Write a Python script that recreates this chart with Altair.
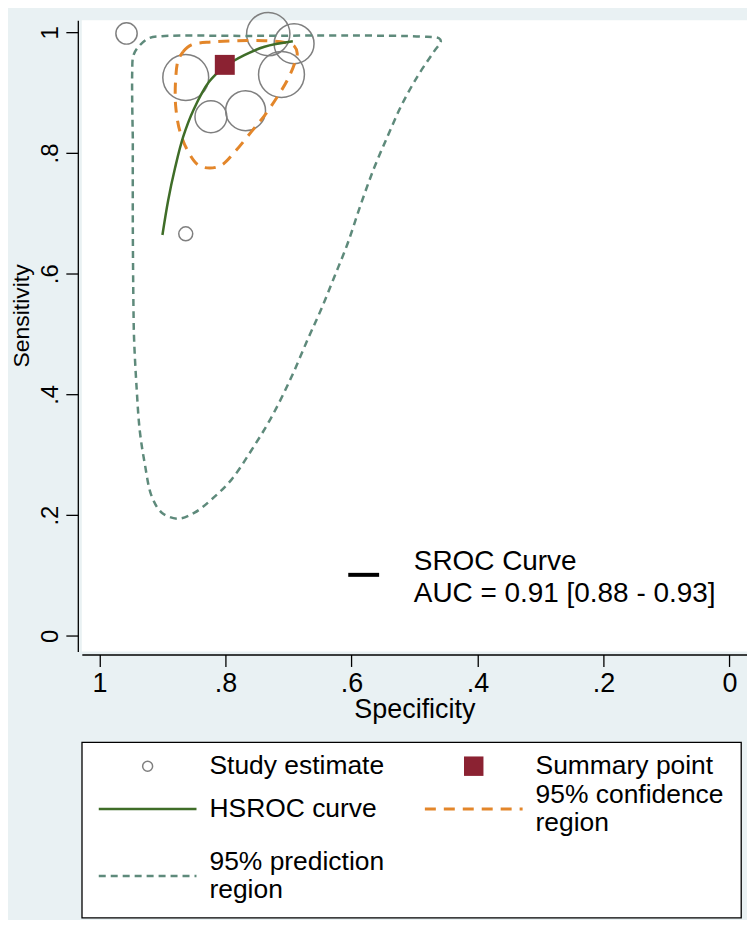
import altair as alt
import pandas as pd

FONT = "Liberation Sans"
BG = "#E9F1F3"

# ---------------- data ----------------
study_spec = [0.957, 0.732, 0.691, 0.863, 0.711, 0.823, 0.768, 0.863]
study_sens = [0.998, 0.997, 0.981, 0.925, 0.930, 0.860, 0.870, 0.666]
study_weight = [114, 471, 400, 529, 529, 256, 400, 49]

summary_spec = [0.801]
summary_sens = [0.946]

hsroc_spec = [0.900, 0.891, 0.880, 0.867, 0.850, 0.826, 0.801, 0.770, 0.738, 0.693]
hsroc_sens = [0.664, 0.721, 0.775, 0.827, 0.873, 0.918, 0.943, 0.962, 0.976, 0.985]

conf_spec = [0.867, 0.854, 0.822, 0.780, 0.738, 0.706, 0.690, 0.686, 0.690, 0.701, 0.717, 0.738,
             0.759, 0.785, 0.806, 0.825, 0.843, 0.859, 0.872, 0.879, 0.879, 0.875, 0.867]
conf_sens = [0.968, 0.979, 0.984, 0.986, 0.986, 0.983, 0.976, 0.965, 0.949, 0.922, 0.894, 0.862,
             0.835, 0.802, 0.780, 0.775, 0.780, 0.802, 0.835, 0.878, 0.922, 0.954, 0.968]

pred_spec = [0.947, 0.948, 0.946, 0.938, 0.922, 0.901, 0.759, 0.601, 0.490, 0.461, 0.458,
             0.469, 0.495, 0.521, 0.542, 0.564, 0.585, 0.606, 0.627, 0.648, 0.669, 0.696,
             0.727, 0.759, 0.791, 0.822, 0.849, 0.875, 0.901, 0.917, 0.928, 0.936, 0.941,
             0.945, 0.946, 0.947, 0.947]
pred_sens = [0.824, 0.933, 0.962, 0.976, 0.990, 0.9935, 0.994, 0.9946, 0.993, 0.990, 0.985,
             0.968, 0.927, 0.878, 0.829, 0.775, 0.715, 0.650, 0.595, 0.541, 0.492, 0.427,
             0.362, 0.307, 0.258, 0.226, 0.204, 0.194, 0.204, 0.231, 0.285, 0.340, 0.411,
             0.492, 0.546, 0.677, 0.824]

tick_values = [0, 0.2, 0.4, 0.6, 0.8, 1]

auc_lines = ["SROC Curve", "AUC = 0.91 [0.88 - 0.93]"]
auc_spec = [0.501, 0.501]
auc_sens = [0.122, 0.070]
auc_key_spec = [0.605, 0.556]
auc_key_sens = [0.101]

legend_labels = ["Study estimate", "Summary point", "HSROC curve",
                 "95% confidence\nregion", "95% prediction\nregion"]
legend_kind = ["study", "summary", "hsroc", "conf", "pred"]
legend_col = [0, 1, 0, 1, 0]
legend_row = [0, 0, 1, 1, 2]

# legend layout (panel units)
leg_sym_x = [66, 393]
leg_text_x = [128, 455]
leg_row_y = [24, 67, 134]
leg_line_half = 49
leg_line_height = 28

# ---------------- frames ----------------
study_df = pd.DataFrame({"spec": study_spec, "sens": study_sens, "w": study_weight})
summary_df = pd.DataFrame({"spec": summary_spec, "sens": summary_sens})
hsroc_df = pd.DataFrame({"spec": hsroc_spec, "sens": hsroc_sens, "i": range(len(hsroc_spec))})
conf_df = pd.DataFrame({"spec": conf_spec, "sens": conf_sens, "i": range(len(conf_spec))})
pred_df = pd.DataFrame({"spec": pred_spec, "sens": pred_sens, "i": range(len(pred_spec))})
auc_df = pd.DataFrame({"spec": auc_spec, "sens": auc_sens, "t": auc_lines})
auc_key_df = pd.DataFrame({"spec": [auc_key_spec[0]], "spec2": [auc_key_spec[1]],
                           "sens": auc_key_sens})

xs = alt.Scale(domain=[-0.028, 1.028], reverse=True, nice=False, zero=False)
ys = alt.Scale(domain=[-0.026, 1.02], nice=False, zero=False)

lab_expr = "datum.value == 0 ? '0' : datum.value == 1 ? '1' : '.' + format(datum.value * 10, '.0f')"

x_axis = alt.Axis(values=tick_values, labelExpr=lab_expr, title="Specificity", grid=False,
                  offset=3, domainColor="black", domainWidth=1.3, tickColor="black",
                  tickWidth=1.3, tickSize=12, labelFontSize=27, labelColor="black",
                  labelPadding=4, labelFont=FONT, titleFont=FONT, titleFontSize=27,
                  titleFontWeight="normal", titleColor="black", titlePadding=0)
y_axis = alt.Axis(values=tick_values, labelExpr=lab_expr, title="Sensitivity", grid=False,
                  offset=4, domainColor="black", domainWidth=1.3, tickColor="black",
                  tickWidth=1.3, tickSize=12, labelFontSize=24, labelColor="black",
                  labelAngle=270, labelAlign="center", labelBaseline="alphabetic",
                  labelPadding=8, labelFont=FONT, titleFont=FONT, titleFontSize=23,
                  titleFontWeight="normal", titleColor="black", titleAngle=270,
                  titleX=-56, titleY=296, titleAlign="center", titleBaseline="middle")

X = alt.X("spec:Q", scale=xs, axis=x_axis)
Y = alt.Y("sens:Q", scale=ys, axis=y_axis)

pred = alt.Chart(pred_df).mark_line(color="#5E8A7B", strokeDash=[7, 5], strokeWidth=2.5,
                                    interpolate="catmull-rom").encode(X, Y, order="i:Q")
conf = alt.Chart(conf_df).mark_line(color="#E3862A", strokeDash=[11, 8], strokeWidth=3,
                                    interpolate="catmull-rom").encode(X, Y, order="i:Q")
hsroc = alt.Chart(hsroc_df).mark_line(color="#3F6D28", strokeWidth=2.5,
                                      interpolate="catmull-rom").encode(X, Y, order="i:Q")
studies = alt.Chart(study_df).mark_point(shape="circle", filled=False, color="#7F7F7F",
                                         strokeWidth=1.5, opacity=1, clip=False).encode(
    X, Y, size=alt.Size("w:Q", scale=alt.Scale(domain=[0, 529], range=[0, 2116]), legend=None))
summary = alt.Chart(summary_df).mark_point(shape="square", filled=True, color="#8B2232",
                                           size=400, opacity=1).encode(X, Y)
auc_key = alt.Chart(auc_key_df).mark_rule(color="black", strokeWidth=4).encode(
    X, alt.X2("spec2:Q"), Y)
auc_txt = alt.Chart(auc_df).mark_text(align="left", baseline="middle", fontSize=28,
                                      font=FONT, color="black").encode(X, Y, text="t:N")

main = alt.layer(studies, pred, conf, hsroc, summary, auc_key, auc_txt).properties(
    width=667, height=633, view=alt.ViewBackground(fill="white", stroke=None))

# ---------------- legend panel ----------------
leg_df = pd.DataFrame({"label": legend_labels, "kind": legend_kind,
                       "col": legend_col, "row": legend_row})
leg_df["sx"] = [leg_sym_x[c] for c in leg_df["col"]]
leg_df["tx"] = [leg_text_x[c] for c in leg_df["col"]]
leg_df["ry"] = [leg_row_y[r] for r in leg_df["row"]]
leg_df["ty"] = [leg_row_y[r] - (lab.count("\n")) * leg_line_height / 2
                for r, lab in zip(leg_df["row"], leg_df["label"])]
leg_df["x1"] = leg_df["sx"] - leg_line_half
leg_df["x2"] = leg_df["sx"] + leg_line_half

lxs = alt.Scale(domain=[0, 661], nice=False, zero=False)
lys = alt.Scale(domain=[0, 176], reverse=True, nice=False, zero=False)
LY = alt.Y("ry:Q", scale=lys, axis=None)

base = alt.Chart(leg_df)
leg_text = base.mark_text(align="left", baseline="middle", fontSize=26.5, font=FONT,
                          color="black", lineBreak="\n", lineHeight=leg_line_height).encode(
    alt.X("tx:Q", scale=lxs, axis=None), alt.Y("ty:Q", scale=lys, axis=None), text="label:N")
leg_study = base.transform_filter("datum.kind == 'study'").mark_point(
    shape="circle", filled=False, color="#7F7F7F", size=100, strokeWidth=1.5, opacity=1).encode(
    alt.X("sx:Q", scale=lxs, axis=None), LY)
leg_summary = base.transform_filter("datum.kind == 'summary'").mark_point(
    shape="square", filled=True, color="#8B2232", size=380, opacity=1).encode(
    alt.X("sx:Q", scale=lxs, axis=None), LY)
leg_hsroc = base.transform_filter("datum.kind == 'hsroc'").mark_rule(
    color="#3F6D28", strokeWidth=2.5).encode(
    alt.X("x1:Q", scale=lxs, axis=None), alt.X2("x2:Q"), LY)
leg_conf = base.transform_filter("datum.kind == 'conf'").mark_rule(
    color="#E3862A", strokeWidth=3, strokeDash=[11, 8]).encode(
    alt.X("x1:Q", scale=lxs, axis=None), alt.X2("x2:Q"), LY)
leg_pred = base.transform_filter("datum.kind == 'pred'").mark_rule(
    color="#5E8A7B", strokeWidth=2.5, strokeDash=[7, 5]).encode(
    alt.X("x1:Q", scale=lxs, axis=None), alt.X2("x2:Q"), LY)

legend = alt.layer(leg_text, leg_study, leg_summary, leg_hsroc, leg_conf, leg_pred).properties(
    width=661, height=176,
    view=alt.ViewBackground(fill="white", stroke="black", strokeWidth=1.3))

chart = alt.vconcat(main, legend, spacing=91, bounds="flush").configure(
    background=BG, padding={"left": 3, "top": 0, "right": 0, "bottom": 0}, font=FONT)

chart.save("out.html", embed_options={"renderer": "svg", "actions": False})
